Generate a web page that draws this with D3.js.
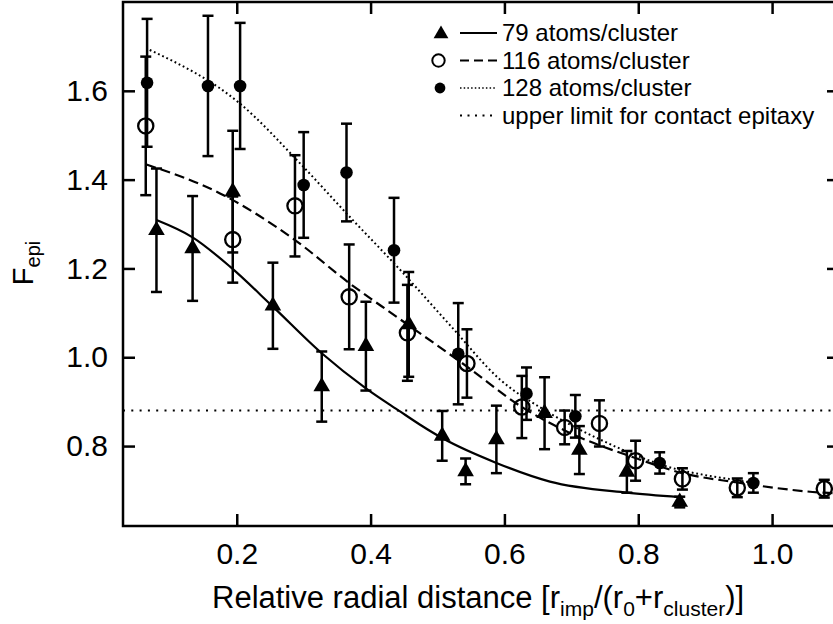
<!DOCTYPE html>
<html lang="en">
<head>
<meta charset="utf-8">
<title>F_epi vs radial distance</title>
<script src="https://cdn.jsdelivr.net/npm/d3@7"></script>
<style>
    body { margin: 0; background: #fff; }
    svg { display: block; font-family: "Liberation Sans", Arial, sans-serif; }
</style>
</head>
<body>
<div id="chart"></div>

<script>
var WIDTH = 833;
var HEIGHT = 624;

// measured values: [x, F_epi, error]
var tri79 = [
    [0.080, 1.286, 0.139], [0.134, 1.245, 0.118], [0.194, 1.373, 0.137],
    [0.254, 1.116, 0.097], [0.327, 0.934, 0.079], [0.393, 1.025, 0.100],
    [0.457, 1.074, 0.118], [0.507, 0.823, 0.056], [0.542, 0.743, 0.029],
    [0.588, 0.815, 0.076], [0.660, 0.874, 0.081], [0.712, 0.791, 0.054],
    [0.783, 0.742, 0.047], [0.862, 0.674, 0.012]
];
var open116 = [
    [0.064, 1.521, 0.156], [0.194, 1.265, 0.097], [0.287, 1.341, 0.114],
    [0.368, 1.136, 0.118], [0.455, 1.055, 0.108], [0.544, 0.986, 0.077],
    [0.626, 0.888, 0.070], [0.690, 0.842, 0.038], [0.742, 0.851, 0.052],
    [0.796, 0.767, 0.045], [0.866, 0.726, 0.024], [0.948, 0.706, 0.021],
    [1.078, 0.704, 0.020]
];
var fill128 = [
    [0.066, 1.618, 0.144], [0.157, 1.611, 0.158], [0.205, 1.611, 0.142],
    [0.300, 1.388, 0.119], [0.364, 1.416, 0.110], [0.435, 1.241, 0.118],
    [0.531, 1.008, 0.114], [0.633, 0.918, 0.059], [0.706, 0.867, 0.048],
    [0.832, 0.762, 0.024], [0.972, 0.717, 0.022]
];

// fitted curves
var fit79 = [
    [0.080, 1.309], [0.134, 1.270], [0.190, 1.204], [0.254, 1.114],
    [0.327, 1.009], [0.393, 0.930], [0.444, 0.878], [0.474, 0.848],
    [0.507, 0.818], [0.588, 0.762], [0.668, 0.720], [0.783, 0.695],
    [0.862, 0.685]
];
var fit116 = [
    [0.065, 1.434], [0.175, 1.369], [0.287, 1.264], [0.369, 1.166],
    [0.439, 1.091], [0.544, 0.979], [0.626, 0.888], [0.693, 0.833],
    [0.796, 0.773], [0.866, 0.739], [0.948, 0.718], [1.078, 0.695],
    [1.092, 0.694]
];
var fit128 = [
    [0.070, 1.692], [0.205, 1.571], [0.295, 1.436], [0.364, 1.324],
    [0.449, 1.189], [0.520, 1.070], [0.594, 0.949], [0.660, 0.881],
    [0.744, 0.814], [0.843, 0.754], [0.943, 0.724], [0.972, 0.717]
];
var upperLimit = 0.88;

var xTicks = [0.2, 0.4, 0.6, 0.8, 1.0];
var yTicks = [0.8, 1.0, 1.2, 1.4, 1.6];
var legendLabels = ["79 atoms/cluster", "116 atoms/cluster", "128 atoms/cluster", "upper limit for contact epitaxy"];

var L = 123, R = 839, T = 2, B = 526;

var x = d3.scaleLinear().domain([0.03, 1.1]).range([L, R]);
var y = d3.scaleLinear().domain([0.62, 1.8]).range([B, T]);

const svg = d3.select("#chart")
    .append("svg")
    .attr("width", WIDTH)
    .attr("height", HEIGHT);

// axes, ticks pointing inward
var fmt = d3.format(".1f");
var gx = svg.append("g").attr("transform", "translate(0," + B + ")")
    .call(d3.axisBottom(x).tickValues(xTicks).tickFormat(fmt).tickSize(-12));
gx.selectAll("text").attr("y", 38).attr("dy", null).attr("font-size", 30);
svg.append("g").attr("transform", "translate(0," + T + ")")
    .call(d3.axisTop(x).tickValues(xTicks).tickFormat("").tickSize(-12));
var gy = svg.append("g").attr("transform", "translate(" + L + ",0)")
    .call(d3.axisLeft(y).tickValues(yTicks).tickFormat(fmt).tickSize(-12).tickPadding(15));
gy.selectAll("text").attr("font-size", 30);
svg.append("g").attr("transform", "translate(" + R + ",0)")
    .call(d3.axisRight(y).tickValues(yTicks).tickFormat("").tickSize(-12));

svg.selectAll(".domain").remove();
svg.selectAll(".tick line").attr("stroke", "#000").attr("stroke-width", 2.5);
svg.selectAll(".tick text").attr("fill", "#000").attr("font-family", null);

svg.append("rect")
    .attr("x", L).attr("y", T)
    .attr("width", R - L).attr("height", B - T)
    .attr("fill", "none").attr("stroke", "#000").attr("stroke-width", 2.5);

// axis titles
var xt = svg.append("text")
    .attr("x", 212).attr("y", 608)
    .attr("font-size", 31);
xt.append("tspan").text("Relative radial distance [r");
xt.append("tspan").attr("font-size", 21).attr("dy", 8).text("imp");
xt.append("tspan").attr("dy", -8).text("/(r");
xt.append("tspan").attr("font-size", 21).attr("dy", 8).text("0");
xt.append("tspan").attr("dy", -8).text("+r");
xt.append("tspan").attr("font-size", 21).attr("dy", 8).text("cluster");
xt.append("tspan").attr("dy", -8).text(")]");

var yt = svg.append("text")
    .attr("transform", "translate(33,263) rotate(-90)")
    .attr("text-anchor", "middle")
    .attr("font-size", 29);
yt.append("tspan").text("F");
yt.append("tspan").attr("font-size", 20).attr("dy", 7).text("epi");

// contact epitaxy limit
svg.append("line")
    .attr("x1", L).attr("x2", R)
    .attr("y1", y(upperLimit)).attr("y2", y(upperLimit))
    .attr("stroke", "#000").attr("stroke-width", 2)
    .attr("stroke-dasharray", "2,6.3");

// fitted curves
var line = d3.line().x(d => x(d[0])).y(d => y(d[1])).curve(d3.curveMonotoneX);
svg.append("path").datum(fit79).attr("d", line)
    .attr("fill", "none").attr("stroke", "#000").attr("stroke-width", 2.2);
svg.append("path").datum(fit116).attr("d", line)
    .attr("fill", "none").attr("stroke", "#000").attr("stroke-width", 2.2)
    .attr("stroke-dasharray", "10,5");
svg.append("path").datum(fit128).attr("d", line)
    .attr("fill", "none").attr("stroke", "#000").attr("stroke-width", 2)
    .attr("stroke-dasharray", "1.8,2.8");

// error bars
function errorBars(data) {
    var g = svg.append("g").attr("stroke", "#000").attr("stroke-width", 2.5);
    data.forEach(function (d) {
        var cx = x(d[0]);
        var y0 = y(d[1] - d[2]), y1 = y(d[1] + d[2]);
        g.append("line").attr("x1", cx).attr("x2", cx).attr("y1", y0).attr("y2", y1);
        g.append("line").attr("x1", cx - 5.5).attr("x2", cx + 5.5).attr("y1", y0).attr("y2", y0);
        g.append("line").attr("x1", cx - 5.5).attr("x2", cx + 5.5).attr("y1", y1).attr("y2", y1);
    });
}
errorBars(tri79);
errorBars(open116);
errorBars(fill128);

var triangle = d3.symbol().type(d3.symbolTriangle).size(120);
svg.append("g").selectAll("path").data(tri79).join("path")
    .attr("d", triangle)
    .attr("transform", d => "translate(" + x(d[0]) + "," + y(d[1]) + ")")
    .attr("fill", "#000");
svg.append("g").selectAll("circle").data(open116).join("circle")
    .attr("cx", d => x(d[0])).attr("cy", d => y(d[1])).attr("r", 7.6)
    .attr("fill", "none").attr("stroke", "#000").attr("stroke-width", 2.3);
svg.append("g").selectAll("circle").data(fill128).join("circle")
    .attr("cx", d => x(d[0])).attr("cy", d => y(d[1])).attr("r", 6.3)
    .attr("fill", "#000");

// legend
var lg = svg.append("g");
var rowY = [33, 60.5, 88, 115.5];
lg.append("path").attr("d", d3.symbol().type(d3.symbolTriangle).size(95))
    .attr("transform", "translate(441," + (rowY[0] + 1) + ")").attr("fill", "#000");
lg.append("circle").attr("cx", 438.5).attr("cy", rowY[1]).attr("r", 6.2)
    .attr("fill", "none").attr("stroke", "#000").attr("stroke-width", 2);
lg.append("circle").attr("cx", 440).attr("cy", rowY[2]).attr("r", 5.4).attr("fill", "#000");
var dashes = [null, "9,5", "1.5,2.2", "2,5.5"];
var widths = [2, 2, 1.5, 2];
rowY.forEach(function (ry, i) {
    lg.append("line").attr("x1", 460).attr("x2", 497).attr("y1", ry).attr("y2", ry)
        .attr("stroke", "#000").attr("stroke-width", widths[i])
        .attr("stroke-dasharray", dashes[i]);
    lg.append("text").attr("x", 502).attr("y", ry + 8)
        .attr("font-size", 24).text(legendLabels[i]);
});
</script>
</body>
</html>
